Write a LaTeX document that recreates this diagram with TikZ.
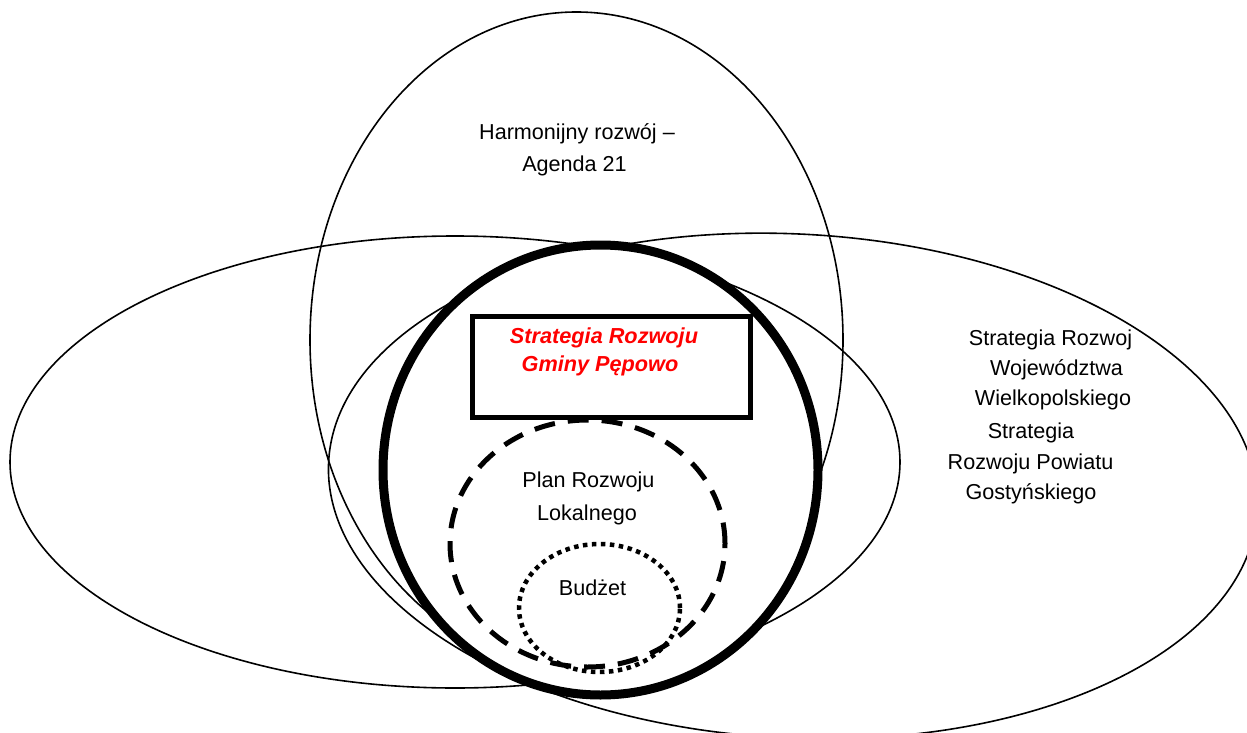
\documentclass[tikz,border=0pt]{standalone}
\usepackage{fontspec}
\setmainfont{Liberation Sans}
\begin{document}
\begin{tikzpicture}[x=1pt,y=-1pt,
  thinline/.style={draw=black, line width=1.6pt},
  thickcirc/.style={draw=black, line width=9pt, fill=white},
  dashcirc/.style={draw=black, line width=5pt, dash pattern=on 21pt off 13pt},
  dotcirc/.style={draw=black, line width=4.5pt, dash pattern=on 4.5pt off 4.5pt},
  boxline/.style={draw=black, line width=5pt, fill=white},
  txt/.style={anchor=base, inner sep=0pt, font=\fontsize{21.6}{32}\selectfont},
  redtxt/.style={anchor=base, inner sep=0pt, text=red, font=\fontsize{21.7}{28}\selectfont\bfseries\itshape}
]
\useasboundingbox (0,0) rectangle (1247,733);
\begin{scope}
  \clip (0,0) rectangle (1247,733);
  % left wide ellipse
  \draw[thinline] (455,462) ellipse [x radius=445pt, y radius=226pt];
  % right big ellipse (slightly tilted)
  \begin{scope}[rotate around={-3:(793,486)}]
    \draw[thinline] (793,486) ellipse [x radius=465pt, y radius=252pt];
  \end{scope}
  % tall top ellipse
  \draw[thinline] (576.5,340) ellipse [x radius=266.5pt, y radius=328pt];
  % thick circle
  \draw[thickcirc] (600.5,470) ellipse [x radius=217.5pt, y radius=225pt];
  % dashed circle
  \draw[dashcirc] (587.5,543.5) ellipse [x radius=137.5pt, y radius=123.5pt];
  % dotted circle
  \draw[dotcirc] (599.5,608) ellipse [x radius=80.5pt, y radius=64pt];
  % box
  \draw[boxline] (472.5,316.5) rectangle (750.5,417.5);
\end{scope}

\node[txt] (h1) at (577,139.3) {Harmonijny rozwój –};
\node[txt] (h2) at (574.5,171.7) {Agenda 21};

\node[redtxt] (r1) at (604,343.3) {Strategia Rozwoju};
\node[redtxt] (r2) at (600,371.7) {Gminy Pępowo};

\node[txt] (p1) at (588.4,487.3) {Plan Rozwoju};
\node[txt] (p2) at (587,520) {Lokalnego};

\node[txt] (b1) at (592.5,595) {Budżet};

\begin{scope}
  \clip (0,0) rectangle (1131.5,733);
  \node[txt] (s1) at (1056.5,345) {Strategia Rozwoju};
  \node[txt] (s2) at (1056.5,375) {Województwa};
  \node[txt] (s3) at (1056,405) {Wielkopolskiego;};
  \node[txt] (s4) at (1031,438) {Strategia};
  \node[txt] (s5) at (1030.5,469.3) {Rozwoju Powiatu};
  \node[txt] (s6) at (1031,499) {Gostyńskiego};
\end{scope}
\end{tikzpicture}
\end{document}
